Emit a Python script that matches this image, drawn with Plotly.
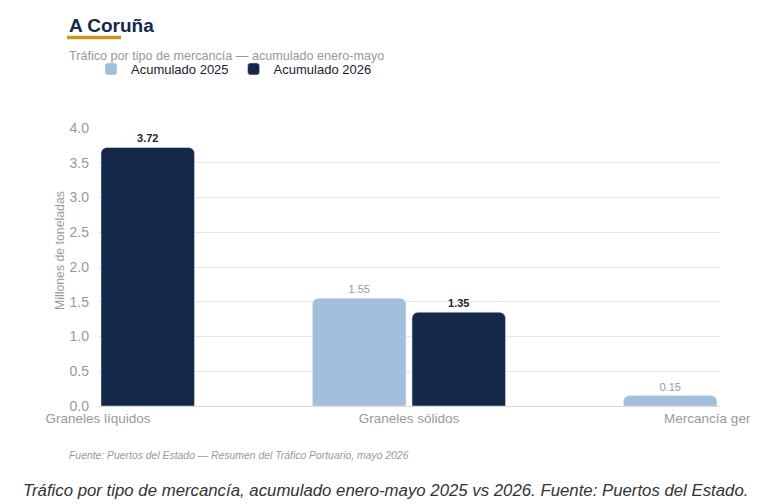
import plotly.graph_objects as go

categories = ["Graneles líquidos", "Graneles sólidos", "Mercancía general"]
values_2025 = [None, 1.55, 0.15]
values_2026 = [3.72, 1.35, None]
series_names = ["Acumulado 2025", "Acumulado 2026"]
y_ticks = [0.0, 0.5, 1.0, 1.5, 2.0, 2.5, 3.0, 3.5, 4.0]

W, H = 750, 504
ML, MR, MT, MB = 98, W - 720, 128, H - 406
PW, PH = W - ML - MR, H - MT - MB

def px(x):
    return (x - ML) / PW

def py(y):
    return (H - MB - y) / PH

C25 = "#a1bfdc"
C26 = "#14284a"
FONT = "Liberation Sans, Arial, sans-serif"

def fmt(v):
    return None if v is None else f"{v:.2f}"

fig = go.Figure()
fig.add_trace(go.Bar(
    name=series_names[0], x=categories, y=values_2025, marker_color=C25,
    text=[fmt(v) for v in values_2025], textposition="outside",
    textfont=dict(color="#999999", size=11, family=FONT),
))
fig.add_trace(go.Bar(
    name=series_names[1], x=categories, y=values_2026, marker_color=C26,
    text=[None if v is None else f"<b>{v:.2f}</b>" for v in values_2026],
    textposition="outside",
    textfont=dict(color="#1a2233", size=11, family=FONT),
))

fig.update_layout(
    width=W, height=H,
    margin=dict(l=ML, r=MR, t=MT, b=MB, pad=0, autoexpand=False),
    paper_bgcolor="white", plot_bgcolor="white",
    font=dict(family=FONT, color="#999999"),
    barmode="group", bargap=0.36, bargroupgap=0.06,
    barcornerradius=6,
    showlegend=True,
    legend=dict(orientation="h", x=px(91), y=py(69), xanchor="left", yanchor="middle",
                font=dict(size=13, color="#1a2233", family=FONT),
                bgcolor="rgba(0,0,0,0)", itemwidth=30, tracegroupgap=0),
    xaxis=dict(type="category", range=[0, 2], showgrid=False, automargin=False,
               showline=True, linecolor="#d9d9d9", linewidth=1,
               tickfont=dict(size=13.5, color="#999999", family=FONT), ticks=""),
    yaxis=dict(range=[0, 4.0], tickvals=y_ticks, tickformat=".1f", automargin=False,
               showgrid=True, gridcolor="#e6e6e6", gridwidth=1, zeroline=False,
               showline=False, ticks="", ticklabelstandoff=8,
               tickfont=dict(size=14, color="#999999", family=FONT)),
)

annotations = [
    dict(text="<b>A Coruña</b>", x=px(67), y=py(25), xanchor="left", yanchor="middle",
         font=dict(size=19, color="#14284a", family=FONT)),
    dict(text="Tráfico por tipo de mercancía — acumulado enero-mayo", x=px(67), y=py(56),
         xanchor="left", yanchor="middle", font=dict(size=12.6, color="#999999", family=FONT)),
    dict(text="Millones de toneladas", x=px(60), y=py(251), xanchor="center", yanchor="middle",
         textangle=-90, font=dict(size=12.3, color="#999999", family=FONT)),
    dict(text="<i>Fuente: Puertos del Estado — Resumen del Tráfico Portuario, mayo 2026</i>",
         x=px(67), y=py(455), xanchor="left", yanchor="middle",
         font=dict(size=10.4, color="#999999", family=FONT)),
    dict(text="<i>Tráfico por tipo de mercancía, acumulado enero-mayo 2025 vs 2026. Fuente: Puertos del Estado.</i>",
         x=px(385), y=py(491), xanchor="center", yanchor="middle",
         font=dict(size=16.8, color="#333333", family=FONT)),
]
for a in annotations:
    a.update(xref="paper", yref="paper", showarrow=False)
fig.update_layout(annotations=annotations)

fig.add_shape(type="line", xref="paper", yref="paper",
              x0=px(67), x1=px(121), y0=py(37.5), y1=py(37.5),
              line=dict(color="#c9961f", width=3.5))

fig.write_html("out.html")
